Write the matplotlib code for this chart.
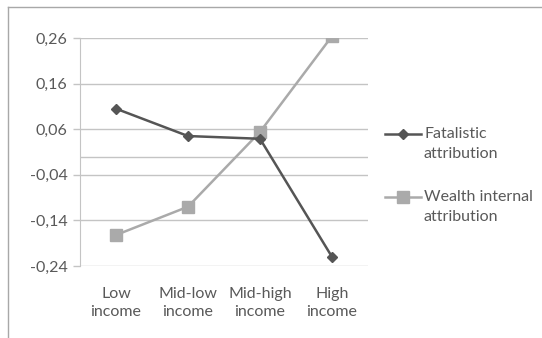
import matplotlib.pyplot as plt
from matplotlib.lines import Line2D
from matplotlib.ticker import FuncFormatter

# income groups and mean attribution scores
categories = ['Low\nincome', 'Mid-low\nincome', 'Mid-high\nincome', 'High\nincome']
fatalistic = [0.105, 0.045, 0.039, -0.22]
wealth_internal = [-0.172, -0.11, 0.054, 0.264]
yticks = [-0.24, -0.14, -0.04, 0.06, 0.16, 0.26]
legend_labels = [('Fatalistic', 'attribution'), ('Wealth internal', 'attribution')]

plt.rcParams['font.family'] = ['Lato', 'DejaVu Sans']
text_col = '#595959'
grid_col = '#c4c4c4'
fs = 11.5
W, H = 542, 338

fig = plt.figure(figsize=(W / 100, H / 100), dpi=100)
ax = fig.add_axes([80 / W, 1 - 266 / H, 288 / W, 228 / H])

x = range(len(categories))
l1, = ax.plot(x, fatalistic, color='#555555', lw=1.8, marker='D', ms=5.5, zorder=4)
l2, = ax.plot(x, wealth_internal, color='#aaaaaa', lw=1.8, marker='s', ms=8, zorder=3)

ax.set_xlim(-0.5, len(categories) - 0.5)
ax.set_ylim(-0.24, 0.26)
ax.set_yticks(yticks)
ax.yaxis.set_major_formatter(FuncFormatter(lambda v, p: f'{v:.2f}'.replace('.', ',')))
ax.set_xticks(list(x))
ax.set_xticklabels(categories, linespacing=1.4)

for v in yticks:
    ax.axhline(v, color=grid_col, lw=1, zorder=1)
ax.axhline(0, color=grid_col, lw=1, zorder=1)

for s in ['top', 'right', 'bottom']:
    ax.spines[s].set_visible(False)
ax.spines['left'].set_color(grid_col)
ax.tick_params(axis='y', colors=text_col, labelsize=fs, length=5, width=1,
               color=grid_col, pad=4)
ax.tick_params(axis='x', colors=text_col, labelsize=fs, length=0, pad=15)

# legend: key sits beside the first text line, second line below
for line, (first, second), ytop in zip([l1, l2], legend_labels, [134, 197]):
    fig.add_artist(Line2D([385 / W, 421 / W], [1 - ytop / H] * 2,
                          color=line.get_color(), lw=line.get_linewidth(),
                          transform=fig.transFigure))
    fig.add_artist(Line2D([403 / W], [1 - ytop / H], color=line.get_color(),
                          marker=line.get_marker(), ms=line.get_markersize(),
                          transform=fig.transFigure))
    fig.text(424 / W, 1 - ytop / H, first, fontsize=fs, color=text_col,
             ha='left', va='center')
    fig.text(424 / W, 1 - (ytop + 20) / H, second, fontsize=fs, color=text_col,
             ha='left', va='center')

# chart frame
fig.add_artist(Line2D([8 / W, 8 / W], [0, 1 - 7 / H], color='#a8a8a8', lw=1,
                      transform=fig.transFigure))
fig.add_artist(Line2D([8 / W, 1], [1 - 7 / H, 1 - 7 / H], color='#a8a8a8', lw=1,
                      transform=fig.transFigure))

fig.savefig('out.png', dpi=100)
